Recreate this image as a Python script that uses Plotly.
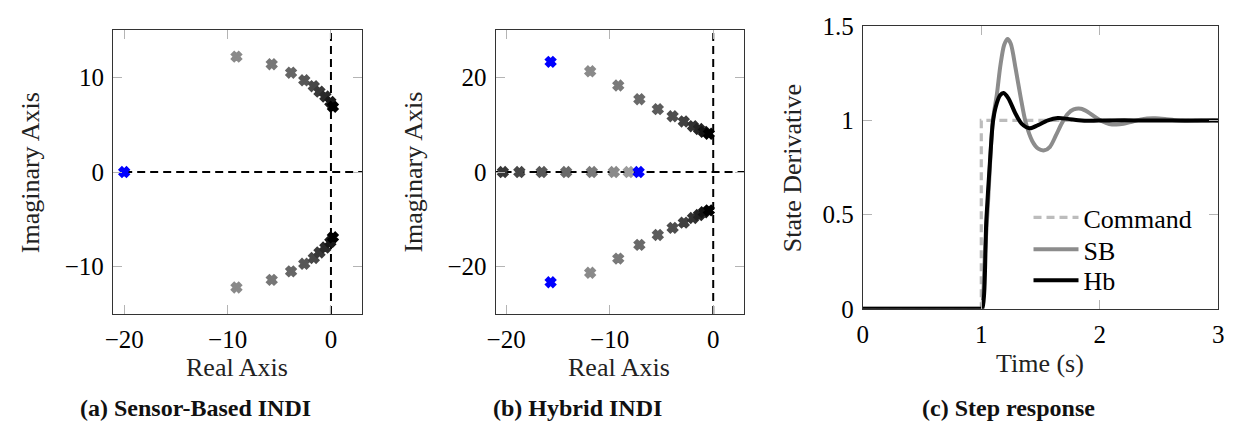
import plotly.graph_objects as go

# ---------------- data ----------------
# (a) Sensor-based INDI root locus
a_up_re = [-9.14, -5.73, -3.86, -2.58, -1.66, -1.11, -0.54, -0.06, 0.19]
a_up_im = [12.2, 11.4, 10.5, 9.7, 9.08, 8.5, 7.98, 7.4, 6.9]
a_lo_re = [-9.14, -5.73, -3.86, -2.58, -1.66, -1.11, -0.54, -0.06, 0.19]
a_lo_im = [-12.2, -11.4, -10.5, -9.7, -9.08, -8.5, -7.98, -7.4, -6.9]
a_colors = ["#8a8a8a", "#777777", "#666666", "#575757", "#484848",
            "#3a3a3a", "#2a2a2a", "#181818", "#000000"]
a_open_re = [-20.0]
a_open_im = [0.0]

# (b) Hybrid INDI root locus
b_up_re = [-11.88, -9.17, -7.13, -5.35, -3.92, -2.84, -1.95, -1.37, -0.9, -0.42]
b_up_im = [21.3, 18.3, 15.4, 13.3, 11.8, 10.7, 9.7, 9.1, 8.5, 8.1]
b_lo_re = [-11.88, -9.17, -7.13, -5.35, -3.92, -2.84, -1.95, -1.37, -0.9, -0.42]
b_lo_im = [-21.3, -18.3, -15.4, -13.3, -11.8, -10.7, -9.7, -9.1, -8.5, -8.1]
b_colors = ["#8a8a8a", "#7a7a7a", "#6a6a6a", "#5c5c5c", "#4e4e4e",
            "#404040", "#323232", "#242424", "#141414", "#000000"]
b_real_re = [-8.16, -9.59, -11.72, -14.2, -16.56, -18.72, -20.31]
b_real_im = [0, 0, 0, 0, 0, 0, 0]
b_real_colors = ["#9c9c9c", "#8a8a8a", "#7a7a7a", "#6a6a6a", "#585858",
                 "#474747", "#383838"]
b_open_re = [-15.7, -15.7, -7.2]
b_open_im = [23.3, -23.3, 0.0]

# reference (axis) lines
a_hline_x = [-20, 3.2]
a_vline_y = [-15, 15]
b_hline_x = [-21.5, 3.2]
b_vline_y = [-30, 30]

# (c) step response
t_cmd = [0.0, 1.0, 1.0, 3.0]
cmd = [0.0, 0.0, 1.0, 1.0]

t_sb = [0.0, 0.98, 1.0, 1.03, 1.06, 1.096, 1.132, 1.161, 1.193, 1.221, 1.249,
        1.29, 1.332, 1.374, 1.43, 1.48, 1.532, 1.58, 1.63, 1.68, 1.73, 1.78,
        1.84, 1.90, 1.96, 2.02, 2.08, 2.14, 2.20, 2.27, 2.34, 2.40, 2.47,
        2.55, 2.63, 2.72, 2.82, 2.92, 3.0]
sb = [0.0, 0.0, 0.0, 0.28, 0.60, 0.99, 1.14, 1.29, 1.40, 1.432, 1.407,
      1.274, 1.124, 0.991, 0.891, 0.85, 0.841, 0.86, 0.92, 0.985, 1.035, 1.058,
      1.062, 1.045, 1.018, 0.995, 0.981, 0.978, 0.982, 0.993, 1.004, 1.010, 1.011,
      1.007, 1.001, 0.997, 0.998, 1.0, 1.0]

t_hb = [0.0, 0.99, 1.007, 1.043, 1.076, 1.098, 1.123, 1.159, 1.188, 1.229,
        1.284, 1.34, 1.41, 1.479, 1.563, 1.646, 1.73, 1.82, 1.92, 2.05, 2.3, 3.0]
hb = [0.0, 0.0, 0.0, 0.476, 0.808, 0.99, 1.074, 1.133, 1.145, 1.117,
      1.042, 0.983, 0.958, 0.975, 1.0, 1.012, 1.008, 1.001, 0.998, 1.0, 1.0, 1.0]

# ---------------- figure ----------------
W, H = 1239, 438
SERIF = "Liberation Serif"
fig = go.Figure()

def markers(x, y, colors, xa, ya):
    fig.add_trace(go.Scatter(
        x=x, y=y, mode="markers", xaxis=xa, yaxis=ya, showlegend=False,
        marker=dict(symbol="x", size=8, color=colors,
                    line=dict(width=2.4, color=colors))))

def dashed(x, y, xa, ya):
    fig.add_trace(go.Scatter(
        x=x, y=y, mode="lines", xaxis=xa, yaxis=ya, showlegend=False,
        line=dict(color="black", width=2, dash="8px,5px")))

# panel a
dashed(a_hline_x, [0, 0], "x", "y")
dashed([0, 0], a_vline_y, "x", "y")
markers(a_up_re, a_up_im, a_colors, "x", "y")
markers(a_lo_re, a_lo_im, a_colors, "x", "y")
markers(a_open_re, a_open_im, "blue", "x", "y")

# panel b
dashed(b_hline_x, [0, 0], "x2", "y2")
dashed([0, 0], b_vline_y, "x2", "y2")
markers(b_up_re, b_up_im, b_colors, "x2", "y2")
markers(b_lo_re, b_lo_im, b_colors, "x2", "y2")
markers(b_real_re, b_real_im, b_real_colors, "x2", "y2")
markers(b_open_re, b_open_im, "blue", "x2", "y2")

# panel c (each entry in its own legend so rows can be spaced like the reference)
fig.add_trace(go.Scatter(x=t_cmd, y=cmd, mode="lines", name="Command",
                         xaxis="x3", yaxis="y3", legend="legend",
                         line=dict(color="#bcbcbc", width=3.2, dash="8px,5px")))
fig.add_trace(go.Scatter(x=t_sb, y=sb, mode="lines", name="SB",
                         xaxis="x3", yaxis="y3", legend="legend2",
                         line=dict(color="#8c8c8c", width=4, shape="spline", smoothing=0.8)))
fig.add_trace(go.Scatter(x=t_hb, y=hb, mode="lines", name="Hb",
                         xaxis="x3", yaxis="y3", legend="legend3",
                         line=dict(color="black", width=4, shape="spline", smoothing=0.8)))

def px_x(p):
    return p / W

def px_y(p):
    return 1 - p / H

axis_common = dict(showgrid=False, zeroline=False, showline=True, linecolor="#333",
                   linewidth=1.3, mirror="allticks", ticks="inside", ticklen=9,
                   tickwidth=1.3, tickcolor="#b4b4b4",
                   tickfont=dict(family=SERIF, size=25, color="black"),
                   ticklabelstandoff=3)

def legend_at(yc):
    return dict(x=px_x(1032), y=px_y(yc), xanchor="left", yanchor="middle",
                bgcolor="rgba(0,0,0,0)", borderwidth=0, itemwidth=45,
                font=dict(family=SERIF, size=26, color="black"))

fig.update_layout(
    width=W, height=H, margin=dict(l=0, r=0, t=0, b=0),
    paper_bgcolor="white", plot_bgcolor="white",
    font=dict(family=SERIF),
    xaxis=dict(domain=[px_x(105.3), px_x(357.3)], range=[-21.08, 3.0],
               tickvals=[-20, -10, 0], anchor="y", **axis_common),
    yaxis=dict(domain=[px_y(320.7), px_y(18.3)], range=[-15, 15],
               tickvals=[-10, 0, 10], anchor="x", **axis_common),
    xaxis2=dict(domain=[px_x(492.7), px_x(744.3)], range=[-21.0, 3.0],
                tickvals=[-20, -10, 0], anchor="y2", **axis_common),
    yaxis2=dict(domain=[px_y(320.7), px_y(18.3)], range=[-30, 30],
                tickvals=[-20, 0, 20], anchor="x2", **axis_common),
    xaxis3=dict(domain=[px_x(864.3), px_x(1224)], range=[0, 3],
                tickvals=[0, 1, 2, 3], anchor="y3", **axis_common),
    yaxis3=dict(domain=[px_y(315.3), px_y(14)], range=[0, 1.5],
                tickvals=[0, 0.5, 1, 1.5], ticktext=["0", "0.5", "1", "1.5"],
                anchor="x3", **axis_common),
    legend=legend_at(218),
    legend2=legend_at(252),
    legend3=legend_at(285),
    showlegend=True,
)

def label(text, x, y, size=26, angle=0, bold=False):
    fig.add_annotation(text=f"<b>{text}</b>" if bold else text,
                       x=px_x(x), y=px_y(y), xref="paper", yref="paper",
                       xanchor="center", yanchor="middle", showarrow=False,
                       textangle=angle,
                       font=dict(family=SERIF, size=size, color="#111" if bold else "#222"))

label("Imaginary Axis", 22, 170, angle=-90)
label("Real Axis", 231.3, 378)
label("Imaginary Axis", 409, 170, angle=-90)
label("Real Axis", 617.5, 378)
label("State Derivative", 793, 165, angle=-90)
label("Time (s)", 1044, 373)
label("(a) Sensor-Based INDI", 188.5, 421, size=24, bold=True)
label("(b) Hybrid INDI", 575.5, 421, size=24, bold=True)
label("(c) Step response", 1012, 421, size=24, bold=True)

fig.write_html("out.html")
